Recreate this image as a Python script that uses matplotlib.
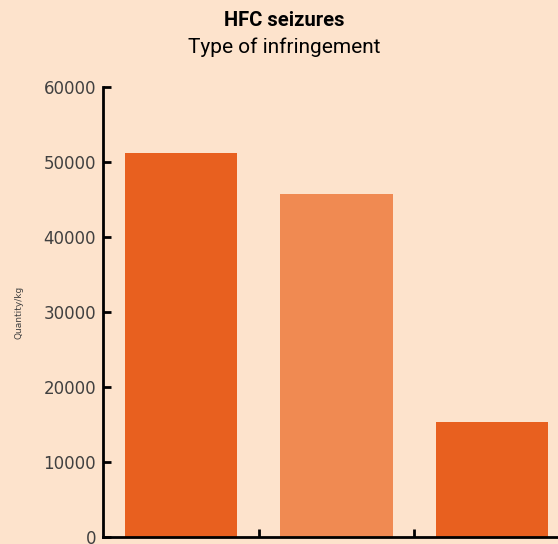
import matplotlib
matplotlib.use("Agg")
import matplotlib.pyplot as plt

# data
categories = ["Type A", "Type B", "Type C"]
quantities = [51200, 45700, 15400]
bar_colors = ["#e8601f", "#f08a52", "#e8601f"]

bg = "#fde3cc"

fig = plt.figure(figsize=(5.58, 5.44), dpi=100, facecolor=bg)
ax = fig.add_axes([0.1846, 0.0129, 0.837, 0.827], facecolor=bg)

positions = [i + 0.5 for i in range(len(categories))]
ax.bar(positions, quantities, width=0.72, color=bar_colors, zorder=2)

ax.set_xlim(0, len(categories))
ax.set_ylim(0, 60000)
ax.set_yticks(range(0, 60001, 10000))
ax.set_xticks(range(1, len(categories)))
ax.set_xticklabels([])

ax.spines["top"].set_visible(False)
ax.spines["right"].set_visible(False)
ax.spines["left"].set_linewidth(2)
ax.spines["bottom"].set_linewidth(2)
ax.tick_params(axis="both", direction="in", length=6, width=2, colors="black")
ax.tick_params(axis="y", labelsize=12, labelcolor="#404040", pad=5)

ax.set_ylabel("Quantity/kg", fontsize=6.5, color="#404040", labelpad=14)

fig.text(0.509, 0.962, "HFC seizures", ha="center", va="center",
         fontsize=14.5, fontweight="bold", family="Roboto")
fig.text(0.509, 0.913, "Type of infringement", ha="center", va="center",
         fontsize=15, family="Roboto")

fig.savefig("out.png", dpi=100, facecolor=bg)
